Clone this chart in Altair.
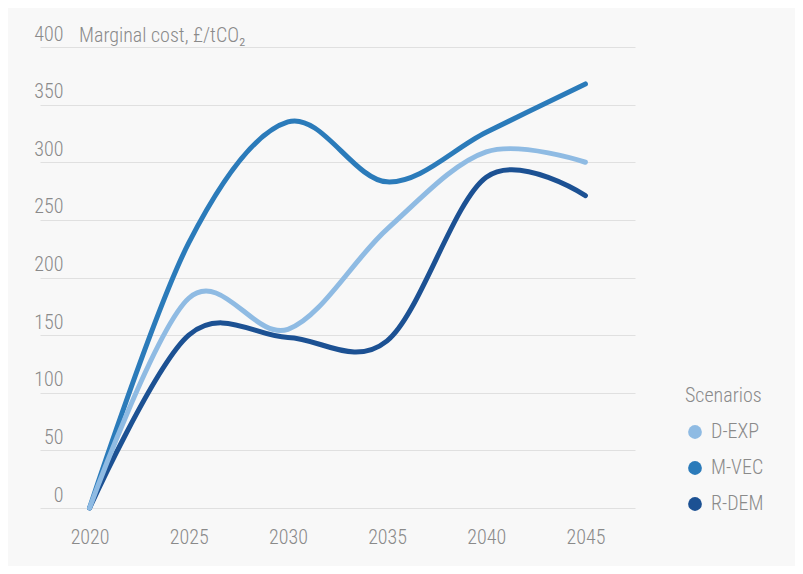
import altair as alt
import pandas as pd

years = [2020, 2025, 2030, 2035, 2040, 2045]
d_exp = [0, 182, 155, 242, 309, 300]
m_vec = [0, 230, 335, 283, 326, 368]
r_dem = [0, 150, 148, 145, 287, 271]
series = ["D-EXP", "M-VEC", "R-DEM"]
colors = ["#8fbbe3", "#2b7bba", "#1c5193"]
y_ticks = [0, 50, 100, 150, 200, 250, 300, 350, 400]

rows = []
for name, vals in zip(series, [d_exp, m_vec, r_dem]):
    for yr, v in zip(years, vals):
        rows.append({"year": yr, "value": v, "scenario": name})
df = pd.DataFrame(rows)

FONT = "Roboto Condensed, Roboto"
GRAY = "#8a8a8a"
FS = 20
FW = 300

x_enc = alt.X("year:Q", scale=alt.Scale(domain=[2017.5, 2047.5], nice=False, zero=False),
              axis=alt.Axis(values=years, format="d", title=None, grid=False, domain=False,
                            ticks=False, tickSize=0, labelPadding=19, labelFontSize=FS,
                            labelFontWeight=FW, labelColor=GRAY, labelFont=FONT))
y_enc = alt.Y("value:Q", scale=alt.Scale(domain=[0, 400], nice=False),
              axis=alt.Axis(values=y_ticks, title=None, grid=True, gridColor="#e0e0e0",
                            gridWidth=1.2, domain=False, ticks=False, tickSize=0,
                            labelAlign="right", labelBaseline="alphabetic", labelOffset=-7,
                            labelPadding=-23, labelFontSize=FS, labelFontWeight=FW,
                            labelColor=GRAY, labelFont=FONT))
color_scale = alt.Scale(domain=series, range=colors)

layers = []
for name in ["R-DEM", "M-VEC", "D-EXP"]:
    layers.append(
        alt.Chart(df).transform_filter(alt.datum.scenario == name)
        .mark_line(strokeWidth=5, strokeCap="round", interpolate="cardinal")
        .encode(x=x_enc, y=y_enc,
                color=alt.Color("scenario:N", scale=color_scale, legend=None))
    )

legend_layer = alt.Chart(df).mark_point(filled=True, opacity=0, size=10).encode(
    x=x_enc, y=y_enc,
    color=alt.Color("scenario:N", scale=color_scale,
                    legend=alt.Legend(title="Scenarios", orient="none", legendX=645,
                                      legendY=339, symbolType="circle", symbolSize=190,
                                      symbolOpacity=1, symbolStrokeWidth=0,
                                      titleFont=FONT, titleFontSize=FS, titleFontWeight=FW,
                                      titleColor=GRAY, titlePadding=16,
                                      labelFont=FONT, labelFontSize=FS, labelFontWeight=FW,
                                      labelColor=GRAY, labelOffset=6, rowPadding=16))
)

chart = alt.layer(legend_layer, *layers).properties(
    width=595, height=461,
    autosize=alt.AutoSizeParams(type="none"),
    padding={"left": 32, "top": 39, "right": 160, "bottom": 58},
    background="#f8f8f8",
    title=alt.TitleParams("Marginal cost, £/tCO₂", anchor="start", frame="group", dx=39,
                          dy=46, offset=8, baseline="alphabetic", font=FONT, fontSize=FS,
                          fontWeight=FW, color=GRAY),
).configure_view(stroke=None)

chart.save("out.html", embed_options={"renderer": "svg", "actions": False})
